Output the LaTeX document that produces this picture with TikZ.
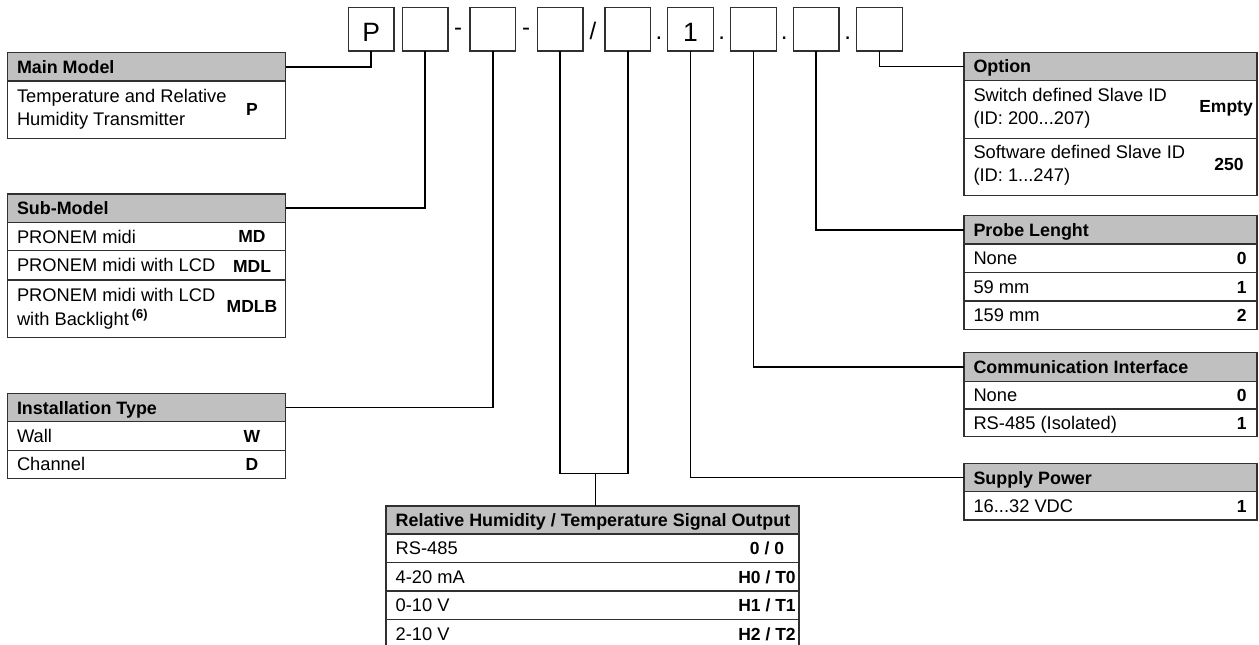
\documentclass[tikz,border=0pt]{standalone}
\usepackage{fontspec}
\setmainfont{Liberation Sans}
\definecolor{hdr}{HTML}{C0C0C0}
\definecolor{bd}{HTML}{303030}
\newcommand\fsz{\fontsize{18.3}{23.3}\selectfont}
\newcommand\hfsz{\fontsize{17.9}{23}\selectfont}
\newcommand\vfsz{\fontsize{17.5}{22}\selectfont}
\newcommand\dfsz{\fontsize{26.5}{30}\selectfont}
\newcommand\sfsz{\fontsize{24}{28}\selectfont}
\begin{document}
\begin{tikzpicture}[x=1pt,y=-1pt,
  box/.style={draw=bd, line width=1.2pt, anchor=north west, inner sep=0pt, outer sep=0pt},
  hbox/.style={box, fill=hdr},
  lbl/.style={anchor=base west, inner sep=0pt, font=\fsz},
  hlbl/.style={anchor=base west, inner sep=0pt, font=\hfsz\bfseries},
  vl/.style={anchor=base, inner sep=0pt, font=\vfsz\bfseries},
  ml/.style={anchor=west, inner sep=0pt, align=left, font=\fsz},
  conn/.style={line width=1.5pt, draw=black},
  dbox/.style={box, minimum width=45.7pt, minimum height=43.7pt},
  dtxt/.style={anchor=base, inner sep=0pt, font=\dfsz},
  sep/.style={anchor=base, inner sep=0pt, font=\sfsz},
  lw/.style={minimum width=278.4pt},
  rw/.style={minimum width=293pt},
  bw/.style={minimum width=413pt}]
\useasboundingbox (0,0) rectangle (1259,645);
\clip (0,0) rectangle (1259,645);

% ---------- code boxes ----------
\node[dbox] (d1) at (348.3,7.3) {};
\node[dbox] (d2) at (402.3,7.3) {};
\node[dbox] (d3) at (470.0,7.3) {};
\node[dbox] (d4) at (537.3,7.3) {};
\node[dbox] (d5) at (605.0,7.3) {};
\node[dbox] (d6) at (667.7,7.3) {};
\node[dbox] (d7) at (730.7,7.3) {};
\node[dbox] (d8) at (793.3,7.3) {};
\node[dbox] (d9) at (856.7,7.3) {};
\node[dtxt] (t1) at (371.2,41.7) {P};
\node[dtxt] (t6) at (690.6,41.7) {1};
\node[sep] (s1) at (458.0,35.9) {-};
\node[sep] (s2) at (526.0,35.9) {-};
\node[sep] (s3) at (593.0,39.5) {/};
\node[sep] (s4) at (659.0,39.0) {.};
\node[sep] (s5) at (721.7,39.0) {.};
\node[sep] (s6) at (784.3,39.0) {.};
\node[sep] (s7) at (847.7,39.0) {.};

% ---------- Main Model ----------
\node[hbox, lw, minimum height=28.5pt] (mmh) at (7.3,52.5) {};
\node[hlbl] (mmht) at (16.8,73.2) {Main Model};
\node[box, lw, minimum height=57.3pt] (mmr1) at (7.3,81.0) {};
\node[ml] (mmr1t) at (16.8,109.6) {Temperature and Relative\\Humidity Transmitter};
\node[vl] (mmr1v) at (252,115.5) {P};

% ---------- Sub-Model ----------
\node[hbox, lw, minimum height=28.3pt] (smh) at (7.3,194.0) {};
\node[hlbl] (smht) at (16.8,214.6) {Sub-Model};
\node[box, lw, minimum height=28.4pt] (smr1) at (7.3,222.3) {};
\node[lbl] (smr1t) at (16.8,243.0) {PRONEM midi};
\node[vl] (smr1v) at (252,242.8) {MD};
\node[box, lw, minimum height=29.3pt] (smr2) at (7.3,250.7) {};
\node[lbl] (smr2t) at (16.8,271.8) {PRONEM midi with LCD};
\node[vl] (smr2v) at (252,272.6) {MDL};
\node[box, lw, minimum height=57.7pt] (smr3) at (7.3,280.0) {};
\node[ml] (smr3t) at (16.8,308.8) {PRONEM midi with LCD\\with Backlight\,\textsuperscript{\bfseries (6)}};
\node[vl] (smr3v) at (252,312.0) {MDLB};

% ---------- Installation Type ----------
\node[hbox, lw, minimum height=28.4pt] (ith) at (7.3,393.3) {};
\node[hlbl] (itht) at (16.8,414.0) {Installation Type};
\node[box, lw, minimum height=28.4pt] (itr1) at (7.3,421.7) {};
\node[lbl] (itr1t) at (16.8,442.4) {Wall};
\node[vl] (itr1v) at (252,442.2) {W};
\node[box, lw, minimum height=28.4pt] (itr2) at (7.3,450.1) {};
\node[lbl] (itr2t) at (16.8,470.8) {Channel};
\node[vl] (itr2v) at (252,470.6) {D};

% ---------- Option ----------
\node[hbox, rw, minimum height=28.5pt] (oph) at (964,52.2) {};
\node[hlbl] (opht) at (973.3,72.9) {Option};
\node[box, rw, minimum height=57.6pt] (opr1) at (964,80.7) {};
\node[ml] (opr1t) at (973.3,108.0) {Switch defined Slave ID\\(ID: 200...207)};
\node[vl] (opr1v) at (1226,112.5) {Empty};
\node[box, rw, minimum height=57.4pt] (opr2) at (964,138.3) {};
\node[ml] (opr2t) at (973.3,165.5) {Software defined Slave ID\\(ID: 1...247)};
\node[vl] (opr2v) at (1229,170.0) {250};

% ---------- Probe Lenght ----------
\node[hbox, rw, minimum height=28.5pt] (prh) at (964,215.5) {};
\node[hlbl] (prht) at (973.3,236.2) {Probe Lenght};
\node[box, rw, minimum height=28.5pt] (prr1) at (964,244.0) {};
\node[lbl] (prr1t) at (973.3,264.7) {None};
\node[vl] (prr1v) at (1241.7,264.5) {0};
\node[box, rw, minimum height=28.5pt] (prr2) at (964,272.5) {};
\node[lbl] (prr2t) at (973.3,293.2) {59 mm};
\node[vl] (prr2v) at (1241.7,293.0) {1};
\node[box, rw, minimum height=28.5pt] (prr3) at (964,301.0) {};
\node[lbl] (prr3t) at (973.3,321.7) {159 mm};
\node[vl] (prr3v) at (1241.7,321.5) {2};

% ---------- Communication Interface ----------
\node[hbox, rw, minimum height=28.8pt] (cih) at (964,352.5) {};
\node[hlbl] (ciht) at (973.3,373.4) {Communication Interface};
\node[box, rw, minimum height=27.7pt] (cir1) at (964,381.3) {};
\node[lbl] (cir1t) at (973.3,401.6) {None};
\node[vl] (cir1v) at (1241.7,401.4) {0};
\node[box, rw, minimum height=27.7pt] (cir2) at (964,409.0) {};
\node[lbl] (cir2t) at (973.3,429.3) {RS-485 (Isolated)};
\node[vl] (cir2v) at (1241.7,429.1) {1};

% ---------- Supply Power ----------
\node[hbox, rw, minimum height=28.3pt] (sph) at (964,463.5) {};
\node[hlbl] (spht) at (973.3,484.1) {Supply Power};
\node[box, rw, minimum height=28.2pt] (spr1) at (964,491.8) {};
\node[lbl] (spr1t) at (973.3,512.4) {16...32 VDC};
\node[vl] (spr1v) at (1241.7,512.2) {1};

% ---------- Signal Output ----------
\node[hbox, bw, minimum height=28pt] (soh) at (386,506) {};
\node[hlbl] (soht) at (395.5,526.5) {Relative Humidity / Temperature Signal Output};
\node[box, bw, minimum height=28.5pt] (sor1) at (386,534.0) {};
\node[lbl] (sor1t) at (395.5,554.7) {RS-485};
\node[vl] (sor1v) at (767,554.5) {0 / 0};
\node[box, bw, minimum height=28.5pt] (sor2) at (386,562.5) {};
\node[lbl] (sor2t) at (395.5,583.2) {4-20 mA};
\node[vl] (sor2v) at (767,583.0) {H0 / T0};
\node[box, bw, minimum height=28.5pt] (sor3) at (386,591.0) {};
\node[lbl] (sor3t) at (395.5,611.7) {0-10 V};
\node[vl] (sor3v) at (767,611.5) {H1 / T1};
\node[box, bw, minimum height=28.5pt] (sor4) at (386,619.5) {};
\node[lbl] (sor4t) at (395.5,640.2) {2-10 V};
\node[vl] (sor4v) at (767,640.0) {H2 / T2};

% ---------- connectors ----------
\draw[conn] (d1.south) |- (mmh.east);
\draw[conn] (d2.south) |- (smh.east);
\draw[conn] (d3.south) |- (ith.east);
\coordinate (brL) at (560,473.5);
\coordinate (brR) at (628,473.5);
\coordinate (brM) at (595.5,473.5);
\draw[conn] (d4.south) -- (d4.south |- brL) -- (d5.south |- brR) -- (d5.south);
\draw[conn] (brM) -- (brM |- soh.north);
\draw[conn] (d6.south) |- (sph.west);
\draw[conn] (d7.south) |- (cih.west);
\draw[conn] (d8.south) |- (prh.west);
\draw[conn] (d9.south) |- (oph.west);
\end{tikzpicture}
\end{document}
